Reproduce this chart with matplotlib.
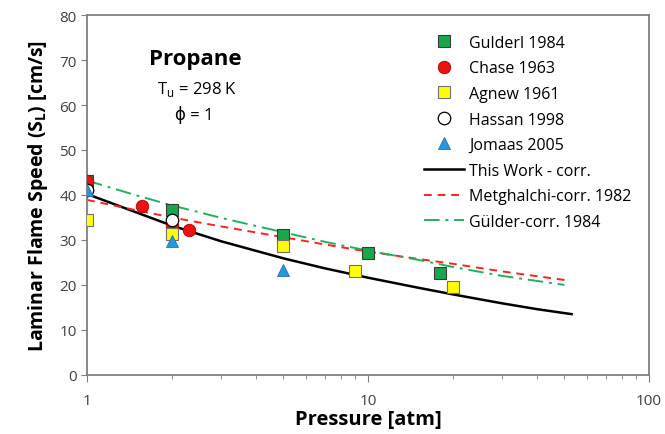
import numpy as np
import matplotlib.pyplot as plt

plt.rcParams['font.family'] = ['Open Sans', 'DejaVu Sans']

# measured flame speeds, cm/s
gulder_p = [1, 2, 5, 10, 18]
gulder_s = [43.2, 36.7, 31.1, 27.0, 22.7]
chase_p = [1, 1.57, 2, 2.3]
chase_s = [43.0, 37.6, 33.2, 32.2]
agnew_p = [1, 2, 5, 9, 20]
agnew_s = [34.4, 31.3, 28.7, 23.0, 19.5]
hassan_p = [1, 2]
hassan_s = [41.0, 34.5]
jomaas_p = [1, 2, 5]
jomaas_s = [41.0, 29.8, 23.3]

# correlations
work_p = [1, 1.5, 2, 3, 5, 7, 10, 15, 20, 30, 40, 53]
work_s = [40.2, 36.1, 33.2, 29.7, 25.9, 23.7, 21.6, 19.4, 17.9, 15.9, 14.6, 13.5]
metg_p = [1, 1.5, 2, 3, 5, 7, 10, 15, 20, 30, 50]
metg_s = [38.9, 36.6, 35.0, 33.0, 30.6, 29.0, 27.4, 25.8, 24.7, 23.0, 21.1]
guld_p = [1, 1.5, 2, 3, 5, 7, 10, 15, 20, 30, 50]
guld_s = [43.2, 39.9, 37.7, 34.9, 31.7, 29.6, 27.6, 25.6, 24.0, 22.0, 20.0]

fig = plt.figure(figsize=(6.65, 4.35), dpi=100)
ax = fig.add_axes([0.131, 0.136, 0.845, 0.827])

ms = 8.5
ax.plot(gulder_p, gulder_s, 's', ms=ms, mfc='#1aa64b', mec='#3a3a3a', mew=0.8,
        label='Gulderl 1984', zorder=3)
ax.plot(chase_p, chase_s, 'o', ms=ms + 0.5, mfc='#ee1111', mec='#b00000', mew=0.6,
        label='Chase 1963', zorder=3)
ax.plot(agnew_p, agnew_s, 's', ms=ms, mfc='#ffff00', mec='#707070', mew=0.8,
        label='Agnew 1961', zorder=3)
ax.plot(hassan_p, hassan_s, 'o', ms=ms + 0.5, mfc='white', mec='black', mew=0.9,
        label='Hassan 1998', zorder=3)
ax.plot(jomaas_p, jomaas_s, '^', ms=ms + 0.5, mfc='#1e9be0', mec='#2a6fa8', mew=0.6,
        label='Jomaas 2005', zorder=3)

ax.plot(work_p, work_s, '-', color='black', lw=1.8, label='This Work - corr.', zorder=2)
ax.plot(metg_p, metg_s, '--', color='#ff2020', lw=1.4, dashes=(4, 3),
        label='Metghalchi-corr. 1982', zorder=2)
ax.plot(guld_p, guld_s, '-.', color='#22b060', lw=1.4, dashes=(8, 3, 1.5, 3),
        label='Gülder-corr. 1984', zorder=2)

ax.set_xscale('log')
ax.set_xlim(1, 100)
ax.set_ylim(0, 80)
ax.set_yticks(np.arange(0, 81, 10))
ax.set_xticks([1, 10, 100])
ax.set_xticklabels(['1', '10', '100'])

for s in ax.spines.values():
    s.set_color('#7f7f7f')
    s.set_linewidth(1.3)
ax.tick_params(axis='both', which='both', direction='out', color='#7f7f7f',
               labelcolor='#404040', labelsize=11)
ax.tick_params(axis='x', which='major', length=5, pad=8)
ax.tick_params(axis='x', which='minor', length=3)
ax.tick_params(axis='y', length=4)

ax.set_xlabel('Pressure [atm]', fontsize=14.5, fontweight='bold', labelpad=1)
ax.set_ylabel('Laminar Flame Speed (S$_\\mathregular{L}$) [cm/s]', fontsize=14,
              fontweight='bold', labelpad=7)

ax.text(0.193, 0.88, 'Propane', transform=ax.transAxes, ha='center', va='center',
        fontsize=16, fontweight='bold')
ax.text(0.195, 0.795, 'T$_\\mathregular{u}$ = 298 K', transform=ax.transAxes,
        ha='center', va='center', fontsize=12)
ax.text(0.19, 0.725, 'ϕ = 1', transform=ax.transAxes, ha='center', va='center',
        fontsize=12)

ax.legend(loc='upper left', bbox_to_anchor=(0.582, 0.972), frameon=False,
          fontsize=11.5, labelspacing=0.6, handlelength=2.5, handletextpad=0.35,
          numpoints=1, borderaxespad=0.2)

fig.savefig('out.png', dpi=100)
